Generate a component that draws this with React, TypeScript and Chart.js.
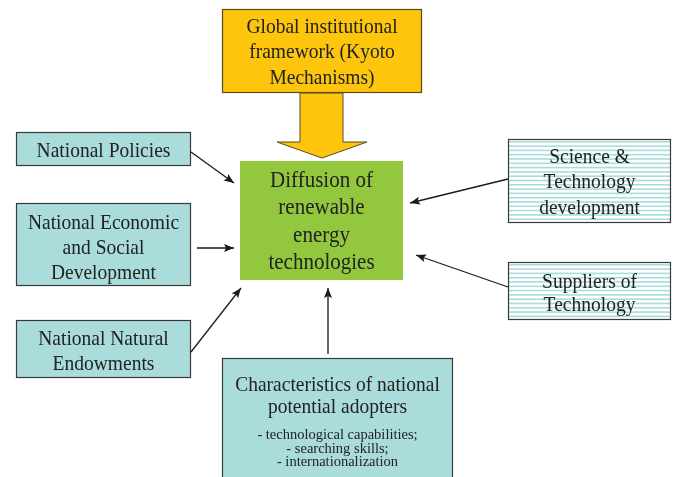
import React, { useEffect, useRef } from "react";
import { Chart, registerables } from "chart.js";

Chart.register(...registerables);

// Diagram nodes (layout in diagram units = page pixels)
const nodeIds = ["global", "center", "policies", "economic", "natural", "adopters", "science", "suppliers"];
const nodeLabels: string[][] = [
  ["Global institutional", "framework (Kyoto", "Mechanisms)"],
  ["Diffusion of", "renewable", "energy", "technologies"],
  ["National Policies"],
  ["National Economic", "and Social", "Development"],
  ["National Natural", "Endowments"],
  ["Characteristics of national", "potential adopters"],
  ["Science &", "Technology", "development"],
  ["Suppliers of", "Technology"],
];
const nodeSubLabels: string[][] = [[], [], [], [], [], ["- technological capabilities;", "- searching skills;", "- internationalization"], [], []];
const nodeLeft = [222, 240, 16, 16, 16, 222, 508, 508];
const nodeTop = [9, 161, 132, 203, 320, 358, 139, 262];
const nodeRight = [422, 403, 191, 191, 191, 453, 671, 671];
const nodeBottom = [93, 280, 166, 286, 378, 490, 223, 320];
const nodeFill = ["#fdc50c", "#93c83e", "#aadcdc", "#aadcdc", "#aadcdc", "#aadcdc", "stripes", "stripes"];
const labelFirstY = [27, 181, 151, 223, 339, 385, 157, 282];
const labelLineGap = [25.5, 27.5, 25, 25, 25, 22.5, 25.5, 23.5];
const labelSize = [19.5, 21, 19.5, 19.5, 19.5, 19.5, 19.5, 19.5];
const subLabelY = [435, 449, 462];

// Arrows: from (x1,y1) to (x2,y2)
const arrowFromX = [191, 197, 191, 328, 508, 508];
const arrowFromY = [152, 248, 352, 354, 179, 287];
const arrowToX = [234, 234, 241, 328, 410, 416];
const arrowToY = [183, 248, 288, 288, 203, 255];

// Big block arrow (Kyoto -> center)
const blockShaftX = [300, 343];
const blockShaftY = [93, 142];
const blockHeadX = [277, 367];
const blockTipY = 158;

export default function App() {
  const ref = useRef<HTMLCanvasElement | null>(null);

  useEffect(() => {
    document.body.style.margin = "0";
    const canvas = ref.current!;
    const serif = "'Liberation Serif', 'Times New Roman', serif";

    const drawText = (ctx: CanvasRenderingContext2D, s: string, x: number, y: number, sy: number) => {
      ctx.save();
      ctx.translate(x, y);
      ctx.scale(1, sy);
      ctx.fillText(s, 0, 0);
      ctx.restore();
    };

    const diagramPlugin = {
      id: "diagram",
      beforeDatasetsDraw(chart: any) {
        const ctx = chart.ctx as CanvasRenderingContext2D;
        const xs = chart.scales.x;
        const ys = chart.scales.y;
        const px = (v: number) => xs.getPixelForValue(v);
        const py = (v: number) => ys.getPixelForValue(v);
        ctx.save();
        ctx.fillStyle = "#ffffff";
        ctx.fillRect(0, 0, chart.width, chart.height);

        // block arrow
        ctx.beginPath();
        ctx.moveTo(px(blockShaftX[0]), py(blockShaftY[0]));
        ctx.lineTo(px(blockShaftX[0]), py(blockShaftY[1]));
        ctx.lineTo(px(blockHeadX[0]), py(blockShaftY[1]));
        ctx.lineTo(px((blockHeadX[0] + blockHeadX[1]) / 2), py(blockTipY));
        ctx.lineTo(px(blockHeadX[1]), py(blockShaftY[1]));
        ctx.lineTo(px(blockShaftX[1]), py(blockShaftY[1]));
        ctx.lineTo(px(blockShaftX[1]), py(blockShaftY[0]));
        ctx.closePath();
        ctx.fillStyle = "#fdc50c";
        ctx.fill();
        ctx.strokeStyle = "#5a4a20";
        ctx.lineWidth = 1;
        ctx.stroke();

        nodeIds.forEach((id, i) => {
          const l = px(nodeLeft[i]);
          const t = py(nodeTop[i]);
          const r = px(nodeRight[i]);
          const b = py(nodeBottom[i]);
          const w = r - l;
          const h = b - t;
          if (nodeFill[i] === "stripes") {
            ctx.fillStyle = "#ffffff";
            ctx.fillRect(l, t, w, h);
            ctx.fillStyle = "#a9dcdc";
            for (let yy = t + 2; yy < b - 1; yy += 4.3) {
              ctx.fillRect(l, yy, w, 1.6);
            }
          } else {
            ctx.fillStyle = nodeFill[i];
            ctx.fillRect(l, t, w, h);
          }
          if (id !== "center") {
            ctx.strokeStyle = id === "global" ? "#5a4a20" : "#3a3a3a";
            ctx.lineWidth = 1.2;
            ctx.strokeRect(l + 0.5, t + 0.5, w - 1, h - 1);
          }
          const cx = (l + r) / 2;
          ctx.fillStyle = "#222222";
          ctx.textAlign = "center";
          ctx.textBaseline = "middle";
          ctx.font = `${labelSize[i]}px ${serif}`;
          nodeLabels[i].forEach((s, k) => {
            drawText(ctx, s, cx, py(labelFirstY[i] + k * labelLineGap[i]), 1.08);
          });
          const subs = nodeSubLabels[i];
          if (subs.length) {
            ctx.font = `14.5px ${serif}`;
            subs.forEach((s, k) => {
              drawText(ctx, s, cx, py(subLabelY[k]), 1.0);
            });
          }
        });
        ctx.restore();
      },
      afterDatasetsDraw(chart: any) {
        const ctx = chart.ctx as CanvasRenderingContext2D;
        ctx.save();
        chart.data.datasets.forEach((ds: any, i: number) => {
          const meta = chart.getDatasetMeta(i);
          const p0 = meta.data[0];
          const p1 = meta.data[1];
          const ang = Math.atan2(p1.y - p0.y, p1.x - p0.x);
          const len = 10;
          const half = 4;
          ctx.beginPath();
          ctx.moveTo(p1.x, p1.y);
          ctx.lineTo(p1.x - len * Math.cos(ang) + half * Math.sin(ang), p1.y - len * Math.sin(ang) - half * Math.cos(ang));
          ctx.lineTo(p1.x - len * Math.cos(ang) * 0.8, p1.y - len * Math.sin(ang) * 0.8);
          ctx.lineTo(p1.x - len * Math.cos(ang) - half * Math.sin(ang), p1.y - len * Math.sin(ang) + half * Math.cos(ang));
          ctx.closePath();
          ctx.fillStyle = "#1a1a1a";
          ctx.fill();
        });
        ctx.restore();
      },
    };

    const datasets = arrowFromX.map((_, i) => ({
      label: `arrow${i}`,
      data: [
        { x: arrowFromX[i], y: arrowFromY[i] },
        { x: arrowToX[i], y: arrowToY[i] },
      ],
      showLine: true,
      borderColor: "#1a1a1a",
      borderWidth: 1.3,
      pointRadius: 0,
      fill: false,
    }));

    const chart = new Chart(canvas, {
      type: "scatter",
      data: { datasets },
      options: {
        animation: false,
        responsive: false,
        maintainAspectRatio: false,
        layout: { padding: 0 },
        plugins: { legend: { display: false }, tooltip: { enabled: false } },
        scales: {
          x: { type: "linear", min: 0, max: 673, display: false },
          y: { type: "linear", min: 0, max: 477, reverse: true, display: false },
        },
      },
      plugins: [diagramPlugin],
    } as any);

    return () => chart.destroy();
  }, []);

  return (
    <div style={{ position: "absolute", left: 0, top: 0, width: 673, height: 477 }}>
      <canvas ref={ref} width={673} height={477} style={{ display: "block", width: 673, height: 477 }} />
    </div>
  );
}
